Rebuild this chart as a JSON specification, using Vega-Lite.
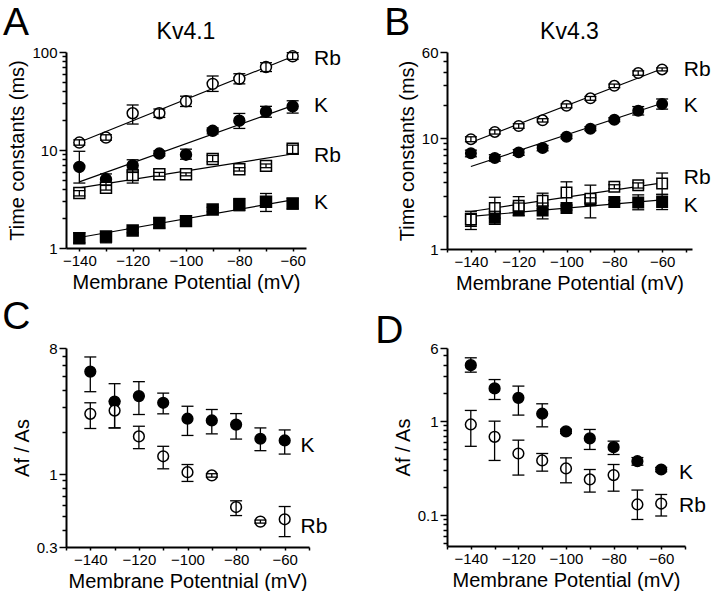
{
  "$schema": "https://vega.github.io/schema/vega-lite/v6.json",
  "background": "white",
  "padding": {"left": 2, "top": 4, "right": 0, "bottom": 0},
  "columns": 2,
  "spacing": {"row": 5, "column": 34},
  "datasets": {
    "A": [
      {"v": -140, "ion": "K", "comp": "slow", "tau": 6.72, "lo": 4.6, "hi": 9.7},
      {"v": -130, "ion": "K", "comp": "slow", "tau": 5.02, "lo": 4.4, "hi": 5.7},
      {"v": -120, "ion": "K", "comp": "slow", "tau": 6.95, "lo": 5.9, "hi": 7.95},
      {"v": -110, "ion": "K", "comp": "slow", "tau": 9.2, "lo": 8.7, "hi": 9.8},
      {"v": -100, "ion": "K", "comp": "slow", "tau": 8.95, "lo": 8.05, "hi": 10.2},
      {"v": -90, "ion": "K", "comp": "slow", "tau": 15.7, "lo": 14.6, "hi": 16.8},
      {"v": -80, "ion": "K", "comp": "slow", "tau": 19.9, "lo": 16.6, "hi": 23.6},
      {"v": -70, "ion": "K", "comp": "slow", "tau": 24.6, "lo": 21.6, "hi": 27.9},
      {"v": -60, "ion": "K", "comp": "slow", "tau": 27.9, "lo": 23.8, "hi": 31.8},
      {"v": -140, "ion": "K", "comp": "fast", "tau": 1.26, "lo": 1.13, "hi": 1.43},
      {"v": -130, "ion": "K", "comp": "fast", "tau": 1.31, "lo": 1.13, "hi": 1.45},
      {"v": -120, "ion": "K", "comp": "fast", "tau": 1.51, "lo": 1.43, "hi": 1.58},
      {"v": -110, "ion": "K", "comp": "fast", "tau": 1.8, "lo": 1.6, "hi": 2.0},
      {"v": -100, "ion": "K", "comp": "fast", "tau": 1.88, "lo": 1.78, "hi": 1.98},
      {"v": -90, "ion": "K", "comp": "fast", "tau": 2.47, "lo": 2.35, "hi": 2.6},
      {"v": -80, "ion": "K", "comp": "fast", "tau": 2.78, "lo": 2.4, "hi": 3.2},
      {"v": -70, "ion": "K", "comp": "fast", "tau": 2.96, "lo": 2.36, "hi": 3.6},
      {"v": -60, "ion": "K", "comp": "fast", "tau": 2.84, "lo": 2.5, "hi": 3.2},
      {"v": -140, "ion": "Rb", "comp": "slow", "tau": 11.9, "lo": 11.2, "hi": 12.7},
      {"v": -130, "ion": "Rb", "comp": "slow", "tau": 13.4, "lo": 12.6, "hi": 14.3},
      {"v": -120, "ion": "Rb", "comp": "slow", "tau": 23.7, "lo": 18.4, "hi": 28.8},
      {"v": -110, "ion": "Rb", "comp": "slow", "tau": 23.7, "lo": 21.5, "hi": 26.2},
      {"v": -100, "ion": "Rb", "comp": "slow", "tau": 31.4, "lo": 27.8, "hi": 35.4},
      {"v": -90, "ion": "Rb", "comp": "slow", "tau": 47.3, "lo": 39.6, "hi": 56.9},
      {"v": -80, "ion": "Rb", "comp": "slow", "tau": 53.3, "lo": 47.3, "hi": 60},
      {"v": -70, "ion": "Rb", "comp": "slow", "tau": 70.2, "lo": 63.2, "hi": 77.7},
      {"v": -60, "ion": "Rb", "comp": "slow", "tau": 90.3, "lo": 84, "hi": 98.5},
      {"v": -140, "ion": "Rb", "comp": "fast", "tau": 3.64, "lo": 3.4, "hi": 3.85},
      {"v": -130, "ion": "Rb", "comp": "fast", "tau": 4.12, "lo": 3.9, "hi": 4.35},
      {"v": -120, "ion": "Rb", "comp": "fast", "tau": 5.55, "lo": 4.6, "hi": 6.1},
      {"v": -110, "ion": "Rb", "comp": "fast", "tau": 5.65, "lo": 5.4, "hi": 5.9},
      {"v": -100, "ion": "Rb", "comp": "fast", "tau": 5.65, "lo": 5.45, "hi": 5.85},
      {"v": -90, "ion": "Rb", "comp": "fast", "tau": 8.1, "lo": 7.6, "hi": 8.8},
      {"v": -80, "ion": "Rb", "comp": "fast", "tau": 6.36, "lo": 6.1, "hi": 6.6},
      {"v": -70, "ion": "Rb", "comp": "fast", "tau": 6.89, "lo": 6.6, "hi": 7.2},
      {"v": -60, "ion": "Rb", "comp": "fast", "tau": 10.3, "lo": 9.2, "hi": 11.2}
    ],
    "Afit": [
      {"s": "Rb-slow", "v": -140, "tau": 12},
      {"s": "Rb-slow", "v": -60, "tau": 90},
      {"s": "K-slow", "v": -140, "tau": 4.73},
      {"s": "K-slow", "v": -60, "tau": 28.4},
      {"s": "Rb-fast", "v": -140, "tau": 4.1},
      {"s": "Rb-fast", "v": -60, "tau": 9.1},
      {"s": "K-fast", "v": -140, "tau": 1.28},
      {"s": "K-fast", "v": -60, "tau": 3.1}
    ],
    "Alab": [
      {"v": -52, "tau": 85.4, "text": "Rb"},
      {"v": -52, "tau": 28.4, "text": "K"},
      {"v": -52, "tau": 8.7, "text": "Rb"},
      {"v": -52, "tau": 2.89, "text": "K"}
    ],
    "B": [
      {"v": -140, "ion": "K", "comp": "slow", "tau": 7.3, "lo": 6.8, "hi": 7.8},
      {"v": -130, "ion": "K", "comp": "slow", "tau": 6.64, "lo": 6.2, "hi": 7.1},
      {"v": -120, "ion": "K", "comp": "slow", "tau": 7.45, "lo": 7.0, "hi": 7.9},
      {"v": -110, "ion": "K", "comp": "slow", "tau": 8.15, "lo": 7.7, "hi": 8.6},
      {"v": -100, "ion": "K", "comp": "slow", "tau": 10.3, "lo": 9.9, "hi": 10.7},
      {"v": -90, "ion": "K", "comp": "slow", "tau": 12.2, "lo": 11.7, "hi": 12.7},
      {"v": -80, "ion": "K", "comp": "slow", "tau": 14.7, "lo": 14.1, "hi": 15.3},
      {"v": -70, "ion": "K", "comp": "slow", "tau": 17.7, "lo": 16.2, "hi": 19.3},
      {"v": -60, "ion": "K", "comp": "slow", "tau": 20.4, "lo": 18.3, "hi": 22.6},
      {"v": -140, "ion": "K", "comp": "fast", "tau": 1.85, "lo": 1.6, "hi": 2.1},
      {"v": -130, "ion": "K", "comp": "fast", "tau": 1.91, "lo": 1.67, "hi": 2.19},
      {"v": -120, "ion": "K", "comp": "fast", "tau": 2.3, "lo": 2.0, "hi": 2.6},
      {"v": -110, "ion": "K", "comp": "fast", "tau": 2.23, "lo": 1.87, "hi": 2.6},
      {"v": -100, "ion": "K", "comp": "fast", "tau": 2.34, "lo": 2.25, "hi": 2.44},
      {"v": -90, "ion": "K", "comp": "fast", "tau": 2.75, "lo": 2.6, "hi": 2.9},
      {"v": -80, "ion": "K", "comp": "fast", "tau": 2.65, "lo": 2.55, "hi": 2.75},
      {"v": -70, "ion": "K", "comp": "fast", "tau": 2.63, "lo": 2.26, "hi": 3.08},
      {"v": -60, "ion": "K", "comp": "fast", "tau": 2.65, "lo": 2.27, "hi": 3.08},
      {"v": -140, "ion": "Rb", "comp": "slow", "tau": 9.8, "lo": 9.3, "hi": 10.3},
      {"v": -130, "ion": "Rb", "comp": "slow", "tau": 11.4, "lo": 10.9, "hi": 11.9},
      {"v": -120, "ion": "Rb", "comp": "slow", "tau": 12.9, "lo": 12.3, "hi": 13.5},
      {"v": -110, "ion": "Rb", "comp": "slow", "tau": 14.5, "lo": 14.0, "hi": 15.0},
      {"v": -100, "ion": "Rb", "comp": "slow", "tau": 19.6, "lo": 18.8, "hi": 20.4},
      {"v": -90, "ion": "Rb", "comp": "slow", "tau": 22.9, "lo": 22.0, "hi": 23.8},
      {"v": -80, "ion": "Rb", "comp": "slow", "tau": 29.7, "lo": 28.6, "hi": 30.8},
      {"v": -70, "ion": "Rb", "comp": "slow", "tau": 38.7, "lo": 37.0, "hi": 40.5},
      {"v": -60, "ion": "Rb", "comp": "slow", "tau": 41.8, "lo": 40.5, "hi": 43.1},
      {"v": -140, "ion": "Rb", "comp": "fast", "tau": 1.85, "lo": 1.5, "hi": 2.19},
      {"v": -130, "ion": "Rb", "comp": "fast", "tau": 2.34, "lo": 1.9, "hi": 2.93},
      {"v": -120, "ion": "Rb", "comp": "fast", "tau": 2.46, "lo": 2.0, "hi": 2.97},
      {"v": -110, "ion": "Rb", "comp": "fast", "tau": 2.72, "lo": 2.3, "hi": 3.19},
      {"v": -100, "ion": "Rb", "comp": "fast", "tau": 3.23, "lo": 2.5, "hi": 4.04},
      {"v": -90, "ion": "Rb", "comp": "fast", "tau": 2.84, "lo": 1.91, "hi": 3.77},
      {"v": -80, "ion": "Rb", "comp": "fast", "tau": 3.64, "lo": 3.5, "hi": 3.8},
      {"v": -70, "ion": "Rb", "comp": "fast", "tau": 3.77, "lo": 3.55, "hi": 3.95},
      {"v": -60, "ion": "Rb", "comp": "fast", "tau": 3.91, "lo": 3.12, "hi": 4.85}
    ],
    "Bfit": [
      {"s": "Rb-slow", "v": -140, "tau": 9.14},
      {"s": "Rb-slow", "v": -60, "tau": 42.4},
      {"s": "K-slow", "v": -140, "tau": 5.56},
      {"s": "K-slow", "v": -60, "tau": 20.7},
      {"s": "Rb-fast", "v": -140, "tau": 2.18},
      {"s": "Rb-fast", "v": -60, "tau": 3.95},
      {"s": "K-fast", "v": -140, "tau": 1.97},
      {"s": "K-fast", "v": -60, "tau": 2.78}
    ],
    "Blab": [
      {"v": -50.9, "tau": 40.9, "text": "Rb"},
      {"v": -50.9, "tau": 19.4, "text": "K"},
      {"v": -50.9, "tau": 4.33, "text": "Rb"},
      {"v": -50.9, "tau": 2.42, "text": "K"}
    ],
    "C": [
      {"v": -140, "ion": "K", "tau": 5.42, "lo": 3.89, "hi": 6.9},
      {"v": -130, "ion": "K", "tau": 3.3, "lo": 2.14, "hi": 4.44},
      {"v": -120, "ion": "K", "tau": 3.62, "lo": 2.67, "hi": 4.59},
      {"v": -110, "ion": "K", "tau": 3.24, "lo": 2.7, "hi": 3.8},
      {"v": -100, "ion": "K", "tau": 2.49, "lo": 1.89, "hi": 3.06},
      {"v": -90, "ion": "K", "tau": 2.42, "lo": 1.94, "hi": 2.9},
      {"v": -80, "ion": "K", "tau": 2.26, "lo": 1.78, "hi": 2.71},
      {"v": -70, "ion": "K", "tau": 1.79, "lo": 1.47, "hi": 2.14},
      {"v": -60, "ion": "K", "tau": 1.74, "lo": 1.39, "hi": 2.07},
      {"v": -140, "ion": "Rb", "tau": 2.7, "lo": 2.12, "hi": 3.24},
      {"v": -130, "ion": "Rb", "tau": 2.85, "lo": 2.14, "hi": 3.33},
      {"v": -120, "ion": "Rb", "tau": 1.86, "lo": 1.52, "hi": 2.2},
      {"v": -110, "ion": "Rb", "tau": 1.34, "lo": 1.09, "hi": 1.58},
      {"v": -100, "ion": "Rb", "tau": 1.03, "lo": 0.885, "hi": 1.17},
      {"v": -90, "ion": "Rb", "tau": 0.977, "lo": 0.95, "hi": 1.005},
      {"v": -80, "ion": "Rb", "tau": 0.58, "lo": 0.504, "hi": 0.643},
      {"v": -70, "ion": "Rb", "tau": 0.456, "lo": 0.445, "hi": 0.468},
      {"v": -60, "ion": "Rb", "tau": 0.474, "lo": 0.356, "hi": 0.585}
    ],
    "Clab": [
      {"v": -53.5, "tau": 1.58, "text": "K"},
      {"v": -53.5, "tau": 0.42, "text": "Rb"}
    ],
    "D": [
      {"v": -140, "ion": "K", "tau": 3.94, "lo": 3.32, "hi": 4.72},
      {"v": -130, "ion": "K", "tau": 2.23, "lo": 1.7, "hi": 2.77},
      {"v": -120, "ion": "K", "tau": 1.77, "lo": 1.16, "hi": 2.36},
      {"v": -110, "ion": "K", "tau": 1.2, "lo": 0.87, "hi": 1.53},
      {"v": -100, "ion": "K", "tau": 0.78, "lo": 0.74, "hi": 0.82},
      {"v": -90, "ion": "K", "tau": 0.655, "lo": 0.5, "hi": 0.816},
      {"v": -80, "ion": "K", "tau": 0.529, "lo": 0.442, "hi": 0.613},
      {"v": -70, "ion": "K", "tau": 0.375, "lo": 0.34, "hi": 0.41},
      {"v": -60, "ion": "K", "tau": 0.306, "lo": 0.29, "hi": 0.322},
      {"v": -140, "ion": "Rb", "tau": 0.922, "lo": 0.54, "hi": 1.3},
      {"v": -130, "ion": "Rb", "tau": 0.681, "lo": 0.382, "hi": 1.0},
      {"v": -120, "ion": "Rb", "tau": 0.453, "lo": 0.267, "hi": 0.628},
      {"v": -110, "ion": "Rb", "tau": 0.382, "lo": 0.294, "hi": 0.453},
      {"v": -100, "ion": "Rb", "tau": 0.314, "lo": 0.221, "hi": 0.407},
      {"v": -90, "ion": "Rb", "tau": 0.24, "lo": 0.176, "hi": 0.306},
      {"v": -80, "ion": "Rb", "tau": 0.267, "lo": 0.18, "hi": 0.346},
      {"v": -70, "ion": "Rb", "tau": 0.13, "lo": 0.09, "hi": 0.185},
      {"v": -60, "ion": "Rb", "tau": 0.133, "lo": 0.098, "hi": 0.166}
    ],
    "Dlab": [
      {"v": -52.5, "tau": 0.28, "text": "K"},
      {"v": -52.5, "tau": 0.125, "text": "Rb"}
    ],
    "one": [{}]
  },
  "concat": [
    {
      "title": {"text": "A", "anchor": "start", "frame": "bounds", "fontSize": 39, "offset": 0, "dx": -5, "dy": 22},
      "vconcat": [
        {
          "width": 240, "height": 196,
          "title": {"text": "Kv4.1", "fontSize": 23, "offset": 1},
          "resolve": {"axis": {"y": "independent"}},
          "encoding": {
            "x": {"field": "v", "type": "quantitative", "scale": {"domain": [-145, -55]},
              "axis": {"values": [-140, -130, -120, -110, -100, -90, -80, -70, -60], "labelExpr": "datum.value % 20 == 0 ? datum.label : ''", "title": "Membrane Potential (mV)", "tickSize": 3}},
            "y": {"field": "tau", "type": "quantitative", "scale": {"type": "log", "domain": [1, 100]}, "axis": null}
          },
          "layer": [
            {
              "data": {"name": "one"},
              "mark": {"type": "rule", "color": "black", "strokeWidth": 2},
              "encoding": {
                "x": {"datum": -145, "title": "Membrane Potential (mV)"},
                "y": {"datum": 1, "axis": null},
                "y2": {"datum": 100}
              }
            },
            {
              "data": {"name": "one"},
              "mark": {"type": "rule", "color": "black", "strokeWidth": 2},
              "encoding": {
                "x": {"datum": -145, "title": "Membrane Potential (mV)"},
                "x2": {"datum": -55},
                "y": {"datum": 1, "axis": null}
              }
            },
            {
              "data": {"name": "Afit"},
              "mark": {"type": "line", "color": "black", "strokeWidth": 1.2},
              "encoding": {"detail": {"field": "s", "type": "nominal"}}
            },
            {
              "data": {"name": "A"},
              "mark": {"type": "point", "filled": true, "size": 120, "stroke": "black", "strokeWidth": 1.5, "opacity": 1},
              "encoding": {
                "y": {"field": "tau", "type": "quantitative", "scale": {"type": "log", "domain": [1, 100]},
                  "axis": {"orient": "left", "values": [1, 10, 100], "format": "~g", "tickSize": 7, "title": "Time constants (ms)"}},
                "shape": {"field": "comp", "type": "nominal", "scale": {"domain": ["slow", "fast"], "range": ["circle", "square"]}, "legend": null},
                "fill": {"field": "ion", "type": "nominal", "scale": {"domain": ["K", "Rb"], "range": ["black", "white"]}, "legend": null}
              }
            },
            {
              "data": {"name": "A"},
              "mark": {"type": "rule", "color": "black", "strokeWidth": 1.3},
              "encoding": {
                "y": {"field": "lo", "type": "quantitative", "scale": {"type": "log", "domain": [1, 100]}, "axis": null},
                "y2": {"field": "hi"}
              }
            },
            {
              "data": {"name": "A"},
              "mark": {"type": "tick", "orient": "horizontal", "color": "black", "thickness": 1.3, "size": 12, "opacity": 1},
              "encoding": {"y": {"field": "lo", "type": "quantitative", "scale": {"type": "log", "domain": [1, 100]}, "axis": null}}
            },
            {
              "data": {"name": "A"},
              "mark": {"type": "tick", "orient": "horizontal", "color": "black", "thickness": 1.3, "size": 12, "opacity": 1},
              "encoding": {"y": {"field": "hi", "type": "quantitative", "scale": {"type": "log", "domain": [1, 100]}, "axis": null}}
            },
            {
              "data": {"name": "Alab"},
              "mark": {"type": "text", "align": "left", "baseline": "middle", "fontSize": 21, "color": "black"},
              "encoding": {
                "y": {"field": "tau", "type": "quantitative", "scale": {"type": "log", "domain": [1, 100]},
                  "axis": {"orient": "left", "values": [2, 3, 4, 5, 6, 7, 8, 9, 20, 30, 40, 50, 60, 70, 80, 90], "labels": false, "domain": false, "title": null, "tickSize": 4}},
                "text": {"field": "text", "type": "nominal"}
              }
            }
          ]
        }
      ]
    },
    {
      "title": {"text": "B", "anchor": "start", "frame": "bounds", "fontSize": 39, "offset": 0, "dx": -13, "dy": 22},
      "vconcat": [
        {
          "width": 245, "height": 197,
          "title": {"text": "Kv4.3", "fontSize": 23, "offset": 1},
          "resolve": {"axis": {"y": "independent"}},
          "encoding": {
            "x": {"field": "v", "type": "quantitative", "scale": {"domain": [-150, -47.5]},
              "axis": {"values": [-150, -140, -130, -120, -110, -100, -90, -80, -70, -60, -50], "labelExpr": "datum.value % 20 == 0 ? datum.label : ''", "title": "Membrane Potential (mV)", "tickSize": 3}},
            "y": {"field": "tau", "type": "quantitative", "scale": {"type": "log", "domain": [1, 60]}, "axis": null}
          },
          "layer": [
            {
              "data": {"name": "one"},
              "mark": {"type": "rule", "color": "black", "strokeWidth": 2},
              "encoding": {
                "x": {"datum": -150, "title": "Membrane Potential (mV)"},
                "y": {"datum": 1, "axis": null},
                "y2": {"datum": 60}
              }
            },
            {
              "data": {"name": "one"},
              "mark": {"type": "rule", "color": "black", "strokeWidth": 2},
              "encoding": {
                "x": {"datum": -150, "title": "Membrane Potential (mV)"},
                "x2": {"datum": -47.5},
                "y": {"datum": 1, "axis": null}
              }
            },
            {
              "data": {"name": "Bfit"},
              "mark": {"type": "line", "color": "black", "strokeWidth": 1.2},
              "encoding": {"detail": {"field": "s", "type": "nominal"}}
            },
            {
              "data": {"name": "B"},
              "mark": {"type": "point", "filled": true, "size": 110, "stroke": "black", "strokeWidth": 1.5, "opacity": 1},
              "encoding": {
                "y": {"field": "tau", "type": "quantitative", "scale": {"type": "log", "domain": [1, 60]},
                  "axis": {"orient": "left", "values": [1, 10, 60], "format": "~g", "tickSize": 7, "title": "Time constants (ms)"}},
                "shape": {"field": "comp", "type": "nominal", "scale": {"domain": ["slow", "fast"], "range": ["circle", "square"]}, "legend": null},
                "fill": {"field": "ion", "type": "nominal", "scale": {"domain": ["K", "Rb"], "range": ["black", "white"]}, "legend": null}
              }
            },
            {
              "data": {"name": "B"},
              "mark": {"type": "rule", "color": "black", "strokeWidth": 1.3},
              "encoding": {
                "y": {"field": "lo", "type": "quantitative", "scale": {"type": "log", "domain": [1, 60]}, "axis": null},
                "y2": {"field": "hi"}
              }
            },
            {
              "data": {"name": "B"},
              "mark": {"type": "tick", "orient": "horizontal", "color": "black", "thickness": 1.3, "size": 12, "opacity": 1},
              "encoding": {"y": {"field": "lo", "type": "quantitative", "scale": {"type": "log", "domain": [1, 60]}, "axis": null}}
            },
            {
              "data": {"name": "B"},
              "mark": {"type": "tick", "orient": "horizontal", "color": "black", "thickness": 1.3, "size": 12, "opacity": 1},
              "encoding": {"y": {"field": "hi", "type": "quantitative", "scale": {"type": "log", "domain": [1, 60]}, "axis": null}}
            },
            {
              "data": {"name": "Blab"},
              "mark": {"type": "text", "align": "left", "baseline": "middle", "fontSize": 21, "color": "black"},
              "encoding": {
                "y": {"field": "tau", "type": "quantitative", "scale": {"type": "log", "domain": [1, 60]},
                  "axis": {"orient": "left", "values": [2, 3, 4, 5, 6, 7, 8, 9, 20, 30, 40, 50], "labels": false, "domain": false, "title": null, "tickSize": 4}},
                "text": {"field": "text", "type": "nominal"}
              }
            }
          ]
        }
      ]
    },
    {
      "title": {"text": "C", "anchor": "start", "frame": "bounds", "fontSize": 39, "offset": 4, "dx": -10},
      "vconcat": [
        {
          "width": 243, "height": 199,
          "resolve": {"axis": {"y": "independent"}},
          "encoding": {
            "x": {"field": "v", "type": "quantitative", "scale": {"domain": [-150, -50]},
              "axis": {"values": [-150, -140, -130, -120, -110, -100, -90, -80, -70, -60, -50], "labelExpr": "datum.value % 20 == 0 ? datum.label : ''", "title": "Membrane Potentnial (mV)", "tickSize": 3}},
            "y": {"field": "tau", "type": "quantitative", "scale": {"type": "log", "domain": [0.3, 8]}, "axis": null}
          },
          "layer": [
            {
              "data": {"name": "one"},
              "mark": {"type": "rule", "color": "black", "strokeWidth": 2},
              "encoding": {
                "x": {"datum": -150, "title": "Membrane Potentnial (mV)"},
                "y": {"datum": 0.3, "axis": null},
                "y2": {"datum": 8}
              }
            },
            {
              "data": {"name": "one"},
              "mark": {"type": "rule", "color": "black", "strokeWidth": 2},
              "encoding": {
                "x": {"datum": -150, "title": "Membrane Potentnial (mV)"},
                "x2": {"datum": -50},
                "y": {"datum": 0.3, "axis": null}
              }
            },
            {
              "data": {"name": "C"},
              "mark": {"type": "point", "filled": true, "size": 115, "shape": "circle", "stroke": "black", "strokeWidth": 1.5, "opacity": 1},
              "encoding": {
                "y": {"field": "tau", "type": "quantitative", "scale": {"type": "log", "domain": [0.3, 8]},
                  "axis": {"orient": "left", "values": [0.3, 1, 8], "format": "~g", "tickSize": 7, "title": "Af / As"}},
                "fill": {"field": "ion", "type": "nominal", "scale": {"domain": ["K", "Rb"], "range": ["black", "white"]}, "legend": null}
              }
            },
            {
              "data": {"name": "C"},
              "mark": {"type": "rule", "color": "black", "strokeWidth": 1.3},
              "encoding": {
                "y": {"field": "lo", "type": "quantitative", "scale": {"type": "log", "domain": [0.3, 8]}, "axis": null},
                "y2": {"field": "hi"}
              }
            },
            {
              "data": {"name": "C"},
              "mark": {"type": "tick", "orient": "horizontal", "color": "black", "thickness": 1.3, "size": 12, "opacity": 1},
              "encoding": {"y": {"field": "lo", "type": "quantitative", "scale": {"type": "log", "domain": [0.3, 8]}, "axis": null}}
            },
            {
              "data": {"name": "C"},
              "mark": {"type": "tick", "orient": "horizontal", "color": "black", "thickness": 1.3, "size": 12, "opacity": 1},
              "encoding": {"y": {"field": "hi", "type": "quantitative", "scale": {"type": "log", "domain": [0.3, 8]}, "axis": null}}
            },
            {
              "data": {"name": "Clab"},
              "mark": {"type": "text", "align": "left", "baseline": "middle", "fontSize": 21, "color": "black"},
              "encoding": {
                "y": {"field": "tau", "type": "quantitative", "scale": {"type": "log", "domain": [0.3, 8]},
                  "axis": {"orient": "left", "values": [0.4, 0.5, 0.6, 0.7, 0.8, 0.9, 2, 3, 4, 5, 6, 7], "labels": false, "domain": false, "title": null, "tickSize": 4}},
                "text": {"field": "text", "type": "nominal"}
              }
            }
          ]
        }
      ]
    },
    {
      "title": {"text": "D", "anchor": "start", "frame": "bounds", "fontSize": 39, "offset": 4, "dx": -18, "dy": 14},
      "vconcat": [
        {
          "width": 238, "height": 198,
          "resolve": {"axis": {"y": "independent"}},
          "encoding": {
            "x": {"field": "v", "type": "quantitative", "scale": {"domain": [-150, -50]},
              "axis": {"values": [-150, -140, -130, -120, -110, -100, -90, -80, -70, -60, -50], "labelExpr": "datum.value % 20 == 0 ? datum.label : ''", "title": "Membrane Potential (mV)", "tickSize": 3}},
            "y": {"field": "tau", "type": "quantitative", "scale": {"type": "log", "domain": [0.047, 6]}, "axis": null}
          },
          "layer": [
            {
              "data": {"name": "one"},
              "mark": {"type": "rule", "color": "black", "strokeWidth": 2},
              "encoding": {
                "x": {"datum": -150, "title": "Membrane Potential (mV)"},
                "y": {"datum": 0.047, "axis": null},
                "y2": {"datum": 6}
              }
            },
            {
              "data": {"name": "one"},
              "mark": {"type": "rule", "color": "black", "strokeWidth": 2},
              "encoding": {
                "x": {"datum": -150, "title": "Membrane Potential (mV)"},
                "x2": {"datum": -50},
                "y": {"datum": 0.047, "axis": null}
              }
            },
            {
              "data": {"name": "D"},
              "mark": {"type": "point", "filled": true, "size": 115, "shape": "circle", "stroke": "black", "strokeWidth": 1.5, "opacity": 1},
              "encoding": {
                "y": {"field": "tau", "type": "quantitative", "scale": {"type": "log", "domain": [0.047, 6]},
                  "axis": {"orient": "left", "values": [0.1, 1, 6], "format": "~g", "tickSize": 7, "title": "Af / As"}},
                "fill": {"field": "ion", "type": "nominal", "scale": {"domain": ["K", "Rb"], "range": ["black", "white"]}, "legend": null}
              }
            },
            {
              "data": {"name": "D"},
              "mark": {"type": "rule", "color": "black", "strokeWidth": 1.3},
              "encoding": {
                "y": {"field": "lo", "type": "quantitative", "scale": {"type": "log", "domain": [0.047, 6]}, "axis": null},
                "y2": {"field": "hi"}
              }
            },
            {
              "data": {"name": "D"},
              "mark": {"type": "tick", "orient": "horizontal", "color": "black", "thickness": 1.3, "size": 12, "opacity": 1},
              "encoding": {"y": {"field": "lo", "type": "quantitative", "scale": {"type": "log", "domain": [0.047, 6]}, "axis": null}}
            },
            {
              "data": {"name": "D"},
              "mark": {"type": "tick", "orient": "horizontal", "color": "black", "thickness": 1.3, "size": 12, "opacity": 1},
              "encoding": {"y": {"field": "hi", "type": "quantitative", "scale": {"type": "log", "domain": [0.047, 6]}, "axis": null}}
            },
            {
              "data": {"name": "Dlab"},
              "mark": {"type": "text", "align": "left", "baseline": "middle", "fontSize": 21, "color": "black"},
              "encoding": {
                "y": {"field": "tau", "type": "quantitative", "scale": {"type": "log", "domain": [0.047, 6]},
                  "axis": {"orient": "left", "values": [0.05, 0.06, 0.07, 0.08, 0.09, 0.2, 0.3, 0.4, 0.5, 0.6, 0.7, 0.8, 0.9, 2, 3, 4, 5], "labels": false, "domain": false, "title": null, "tickSize": 4}},
                "text": {"field": "text", "type": "nominal"}
              }
            }
          ]
        }
      ]
    }
  ],
  "config": {
    "font": "Liberation Sans",
    "view": {"stroke": null},
    "axis": {"domainColor": "black", "domainWidth": 2, "tickColor": "black", "tickWidth": 1.5, "labelColor": "black", "labelFontSize": 15, "titleFontSize": 20, "titleFontWeight": "normal", "titleColor": "black", "grid": false},
    "title": {"fontWeight": "normal", "color": "black"}
  }
}
